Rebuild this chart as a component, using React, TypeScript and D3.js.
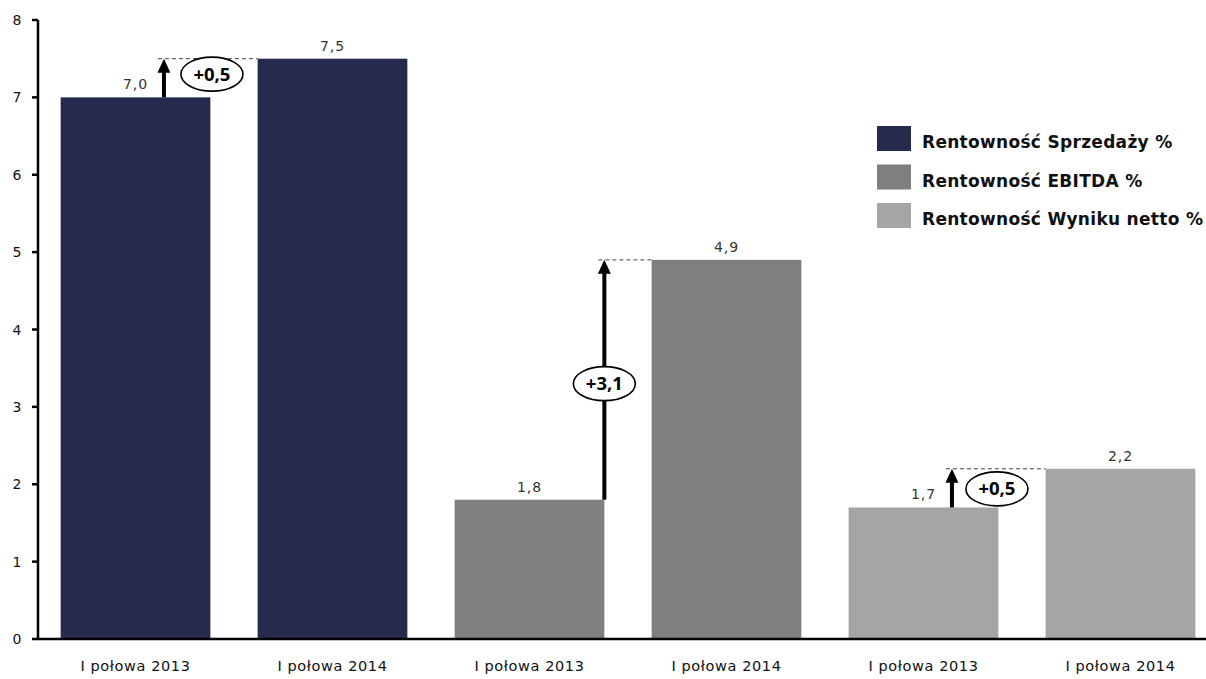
import React from "react";
import * as d3 from "d3";

const categories = ["I połowa 2013", "I połowa 2014", "I połowa 2013", "I połowa 2014", "I połowa 2013", "I połowa 2014"];
const values = [7.0, 7.5, 1.8, 4.9, 1.7, 2.2];
const valueLabels = ["7,0", "7,5", "1,8", "4,9", "1,7", "2,2"];
const seriesOfBar = [0, 0, 1, 1, 2, 2];
const seriesNames = ["Rentowność Sprzedaży %", "Rentowność EBITDA %", "Rentowność Wyniku netto %"];
const seriesColors = ["#262a4c", "#7f7f7f", "#a5a5a5"];
const yTicks = [0, 1, 2, 3, 4, 5, 6, 7, 8];
const deltaFrom = [0, 2, 4];
const deltaTo = [1, 3, 5];
const deltaLabels = ["+0,5", "+3,1", "+0,5"];
const deltaLabelValue = [7.3, 3.3, 1.94];

const W = 1206;
const H = 679;
const FONT = "'DejaVu Sans', sans-serif";
const BOLDFONT = "'Open Sans', sans-serif";

export default function App() {
  const x = d3.scaleBand<number>().domain(d3.range(values.length)).range([37, 1219]).paddingInner(0.24).paddingOuter(0.12);
  const y = d3.scaleLinear().domain([0, 8]).range([639, 20]);
  const bw = x.bandwidth();
  const arrowFrac = [0.69, 1.0, 0.69];
  const labelOffset = [48, 0, 45];

  return (
    <svg width={W} height={H} style={{ position: "absolute", left: 0, top: 0, background: "#fff" }} fontFamily={FONT}>
      {/* bars */}
      {values.map((v, i) => (
        <rect key={i} x={x(i)} y={y(v)} width={bw} height={y(0) - y(v)} fill={seriesColors[seriesOfBar[i]]} />
      ))}
      {/* value labels */}
      {values.map((v, i) => (
        <text key={i} x={(x(i) as number) + bw / 2} y={y(v) - 8} textAnchor="middle" fontSize={14} letterSpacing={0.9} fill="#333">
          {valueLabels[i]}
        </text>
      ))}
      {/* y axis */}
      <line x1={38} x2={38} y1={y(8)} y2={y(0)} stroke="#000" strokeWidth={2.5} />
      {yTicks.map((t) => (
        <g key={t}>
          <line x1={32} x2={38} y1={y(t)} y2={y(t)} stroke="#000" strokeWidth={2.5} />
          <text x={17} y={y(t) + 5} textAnchor="middle" fontSize={14} fill="#111">
            {t}
          </text>
        </g>
      ))}
      {/* x axis */}
      <line x1={37} x2={W} y1={y(0)} y2={y(0)} stroke="#000" strokeWidth={2.5} />
      {categories.map((c, i) => (
        <text key={i} x={(x(i) as number) + bw / 2} y={671} textAnchor="middle" fontSize={14.5} letterSpacing={0.6} fill="#111">
          {c}
        </text>
      ))}
      {/* deltas */}
      {deltaFrom.map((f, k) => {
        const t = deltaTo[k];
        const ax = (x(f) as number) + bw * arrowFrac[k];
        const y1 = y(values[f]);
        const y2 = y(values[t]);
        const lx = ax + labelOffset[k];
        const ly = y(deltaLabelValue[k]);
        return (
          <g key={k}>
            <line x1={ax - 6} x2={x(t) as number} y1={y2} y2={y2} stroke="#444" strokeWidth={1} strokeDasharray="4,3" />
            <line x1={ax} x2={ax} y1={y1} y2={y2 + 12} stroke="#000" strokeWidth={4} />
            <path d={`M${ax},${y2} L${ax - 6.5},${y2 + 14} L${ax + 6.5},${y2 + 14} Z`} fill="#000" />
            <ellipse cx={lx} cy={ly} rx={31} ry={17} fill="#fff" stroke="#000" strokeWidth={1.6} />
            <text x={lx} y={ly + 6.5} textAnchor="middle" fontSize={18.5} fontWeight="bold" fontFamily={BOLDFONT} fill="#000">
              {deltaLabels[k]}
            </text>
          </g>
        );
      })}
      {/* legend */}
      {seriesNames.map((n, i) => (
        <g key={i}>
          <rect x={877} y={126 + i * 38.5} width={34} height={25} fill={seriesColors[i]} />
          <text x={922} y={148 + i * 38.5} fontSize={17} fontWeight="bold" letterSpacing={0.3} fill="#111">
            {n}
          </text>
        </g>
      ))}
    </svg>
  );
}
